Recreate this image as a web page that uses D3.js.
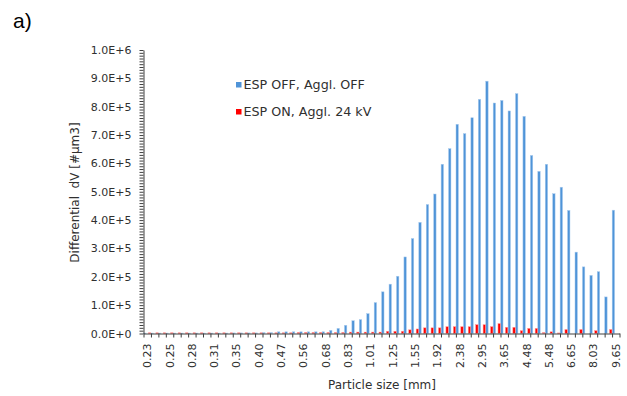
<!DOCTYPE html>
<html>
<head>
<meta charset="utf-8">
<script src="https://cdn.jsdelivr.net/npm/d3@7"></script>
<style>
  html, body { margin: 0; padding: 0; background: #fff; }
  svg { display: block; }
  text { font-family: "DejaVu Sans", sans-serif; }
</style>
</head>
<body>
<svg id="chart" width="627" height="396"></svg>
<script>
// Particle size bins (64 bins, every third one labelled)
const binCount = 64;
const labelEvery = 3;
const sizeLabels = ["0.23","0.25","0.28","0.31","0.35","0.40","0.47","0.56","0.68","0.83","1.01",
                    "1.25","1.55","1.92","2.38","2.95","3.65","4.48","5.48","6.65","8.03","9.65"];

// Differential volume, ESP off / agglomerator off
const espOffValues = [
  1500,1500,1500,1500,1500,1500,1500,1500,1500,1500,1500,1500,
  2000,2000,2000,2000,3000,3000,
  6000,6000,6000,6000,6000,6000,6000,
  11000,18000,29000,45000,49000,70000,109000,
  147000,174000,202000,270000,335000,392000,455000,492000,
  597000,652000,738000,705000,761000,826000,890000,813000,
  822000,785000,846000,766000,628000,572000,597000,493000,
  516000,434000,287000,235000,205000,218000,129000,435000
];

// Differential volume, ESP on / agglomerator at 24 kV
const espOnValues = [
  2500,2500,2500,2500,2500,2500,2500,2500,2500,2500,
  2500,2500,2500,2500,2500,2500,2500,2500,2500,2500,
  3500,3500,3500,3500,3500,3500,3500,
  5000,5000,5000,5000,5000,
  8000,8000,8000,13000,16000,20000,20000,20000,
  24000,24000,24000,24000,31000,31000,24000,35000,
  22000,22000,10000,18000,18000,3000,6000,2000,
  14000,0,14000,0,10000,0,14000,0
];

const seriesNames = ["ESP OFF, Aggl. OFF", "ESP ON, Aggl. 24 kV"];
const seriesColors = ["#4f94d8", "#ff0000"];
const seriesEdges = ["#a9cbee", "#ff9a9a"];

const yMax = 1e6;
const yMajorStep = 1e5;
const yMinorStep = 1e4;

const svg = d3.select("#chart");
const plotLeft = 143.5, plotRight = 619.5, plotTop = 50, plotBottom = 333.5;

const bins = d3.range(binCount);
const x = d3.scaleBand().domain(bins).range([plotLeft, plotRight]).padding(0);
// slot layout inside each bin: off-series, empty slot, on-series
const slot = d3.scaleBand().domain(["off", "spacer", "on"])
  .range([0, x.bandwidth()]).paddingInner(0).paddingOuter(0.05);
const y = d3.scaleLinear().domain([0, yMax]).range([plotBottom, plotTop]);

const data = bins.map(i => ({ bin: i, off: espOffValues[i], on: espOnValues[i] }));

// bars
const keys = ["off", "on"];
keys.forEach((key, si) => {
  svg.append("g").selectAll("rect").data(data).join("rect")
    .attr("x", d => x(d.bin) + slot(key))
    .attr("width", slot.bandwidth())
    .attr("y", d => y(d[key]))
    .attr("height", d => y(0) - y(d[key]))
    .attr("fill", seriesColors[si])
    .attr("stroke", seriesEdges[si])
    .attr("stroke-width", 0.5);
});

const axisColor = "#404040";
const textColor = "#303030";

// y axis: ticks every 1e4, labels on every 1e5
const fmt = d3.format(".1e");
const yAxis = d3.axisLeft(y)
  .tickValues(d3.range(0, yMax + 1, yMinorStep))
  .tickSize(4)
  .tickSizeOuter(0)
  .tickFormat(v => (Math.round(v) % yMajorStep === 0) ? fmt(v).toUpperCase() : "");
const gy = svg.append("g").attr("transform", `translate(${plotLeft},0)`).call(yAxis);
gy.select(".domain").attr("stroke", axisColor);
gy.selectAll(".tick line").attr("stroke", axisColor);
gy.selectAll(".tick text")
  .attr("x", -12).attr("fill", textColor)
  .style("font-family", "DejaVu Sans").style("font-size", "11px");

// x axis: tick marks on bin boundaries
const xEdges = d3.scaleLinear().domain([0, binCount]).range([plotLeft, plotRight]);
const gxTicks = svg.append("g").attr("transform", `translate(0,${plotBottom})`)
  .call(d3.axisBottom(xEdges).tickValues(d3.range(binCount + 1)).tickSize(4).tickSizeOuter(0).tickFormat(""));
gxTicks.select(".domain").attr("stroke", axisColor);
gxTicks.selectAll(".tick line").attr("stroke", axisColor);

// x axis: rotated size labels on every third bin centre
const gxLabels = svg.append("g").attr("transform", `translate(0,${plotBottom})`)
  .call(d3.axisBottom(x)
    .tickValues(d3.range(0, binCount, labelEvery))
    .tickFormat(i => sizeLabels[i / labelEvery])
    .tickSize(0));
gxLabels.select(".domain").remove();
gxLabels.selectAll(".tick text")
  .attr("transform", "rotate(-90)")
  .attr("text-anchor", "end")
  .attr("x", -10).attr("y", 0).attr("dy", "0.36em")
  .attr("fill", textColor)
  .style("font-family", "DejaVu Sans").style("font-size", "11px");

// axis titles
svg.append("text")
  .attr("transform", "translate(79,192.5) rotate(-90)")
  .attr("text-anchor", "middle")
  .attr("fill", textColor)
  .style("font-size", "12px")
  .style("white-space", "pre")
  .text("Differential  dV [#µm3]");

svg.append("text")
  .attr("x", 382).attr("y", 389)
  .attr("text-anchor", "middle")
  .attr("fill", textColor)
  .style("font-size", "12px")
  .text("Particle size [mm]");

// legend
const legend = svg.append("g");
seriesNames.forEach((name, i) => {
  const ly = 82 + i * 27;
  legend.append("rect")
    .attr("x", 236).attr("y", ly).attr("width", 5.5).attr("height", 5.5)
    .attr("fill", seriesColors[i]);
  legend.append("text")
    .attr("x", 243.5).attr("y", ly + 7.3)
    .attr("fill", textColor)
    .style("font-size", "12.7px")
    .text(name);
});

// panel tag
svg.append("text")
  .attr("x", 13).attr("y", 28)
  .attr("fill", "#000")
  .style("font-family", "Liberation Sans, Arial, sans-serif")
  .style("font-size", "21px")
  .text("a)");
</script>
</body>
</html>
